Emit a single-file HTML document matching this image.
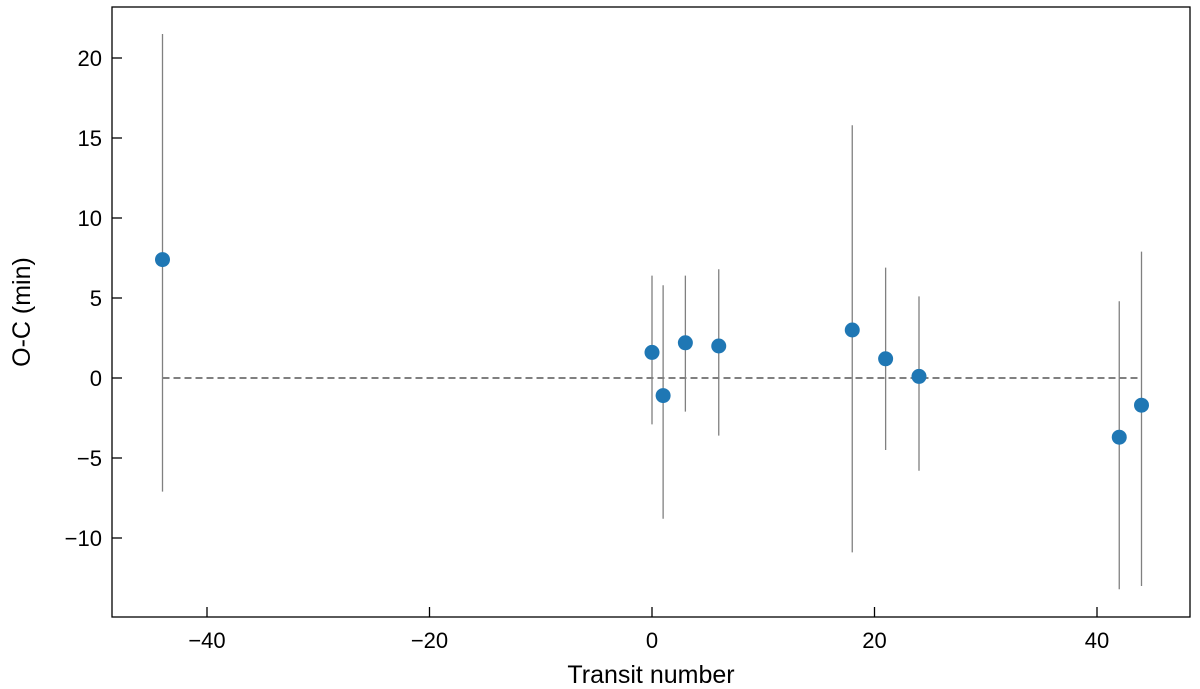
<!DOCTYPE html>
<html><head><meta charset="utf-8"><style>
body{margin:0;background:#fff;}
svg{display:block;font-family:"Liberation Sans","DejaVu Sans",sans-serif;}
</style></head><body>
<svg id="chart" width="1200" height="689" viewBox="0 0 1200 689"></svg>
<script>
const transits = [-44, 0, 1, 3, 6, 18, 21, 24, 42, 44];
const ocValues = [7.4, 1.6, -1.1, 2.2, 2.0, 3.0, 1.2, 0.1, -3.7, -1.7];
const errUpper = [14.1, 4.8, 6.9, 4.2, 4.8, 12.8, 5.7, 5.0, 8.5, 9.6];
const errLower = [14.5, 4.5, 7.7, 4.3, 5.6, 13.9, 5.7, 5.9, 9.5, 11.3];
const xTicks = [-40, -20, 0, 20, 40];
const yTicks = [-10, -5, 0, 5, 10, 15, 20];

const L=112, R=1190, T=7, B=617;
const xs = v => 652 + (1097-652)/40 * v;
const ys = v => 378 - 16 * v;
const svg = document.getElementById('chart');
const NS = 'http://www.w3.org/2000/svg';
function mk(tag, attrs, parent){const e=document.createElementNS(NS,tag);for(const k in attrs)e.setAttribute(k,attrs[k]);(parent||svg).appendChild(e);return e;}

// zero line
const zl = mk('line',{x1:xs(-44),x2:xs(44),y1:ys(0),y2:ys(0),stroke:'#808080','stroke-width':2,'stroke-dasharray':'7,4'});



transits.forEach((t,i)=>{
  const eb = mk('line',{x1:xs(t),x2:xs(t),y1:ys(ocValues[i]+errUpper[i]),y2:ys(ocValues[i]-errLower[i]),stroke:'#808080','stroke-width':1.3});
  
  
});
transits.forEach((t,i)=>{
  const c = mk('circle',{cx:xs(t),cy:ys(ocValues[i]),r:7.5,fill:'#1f77b4'});
  
  
});

// frame
const fr = mk('rect',{x:L,y:T,width:R-L,height:B-T,fill:'none',stroke:'#000','stroke-width':1.3});



xTicks.forEach(v=>{
  const tk = mk('line',{x1:xs(v),x2:xs(v),y1:B,y2:B-10,stroke:'#000','stroke-width':1.3});
  
  
  const tx = mk('text',{x:xs(v),y:B+31,'text-anchor':'middle','font-size':22,fill:'#000'});
  tx.textContent = v<0 ? '\u2212'+Math.abs(v) : String(v);
  
  
});
yTicks.forEach(v=>{
  const tk = mk('line',{x1:L,x2:L+10,y1:ys(v),y2:ys(v),stroke:'#000','stroke-width':1.3});
  
  
  const tx = mk('text',{x:L-10,y:ys(v)+8,'text-anchor':'end','font-size':22,fill:'#000'});
  tx.textContent = v<0 ? '\u2212'+Math.abs(v) : String(v);
  
  
});
const xl = mk('text',{x:651,y:683,'text-anchor':'middle','font-size':25,fill:'#000'});
xl.textContent='Transit number';


const yl = mk('text',{x:30,y:312,'text-anchor':'middle','font-size':25,fill:'#000',transform:'rotate(-90 30 312)'});
yl.textContent='O-C (min)';


</script>
</body></html>
